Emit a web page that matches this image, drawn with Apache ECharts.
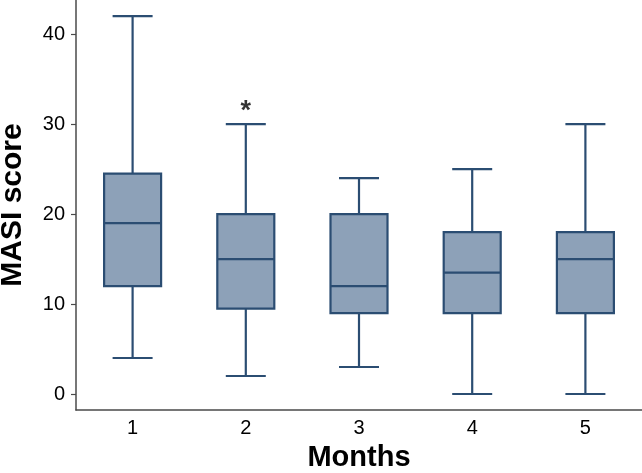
<!DOCTYPE html>
<html><head><meta charset="utf-8">
<script src="https://cdn.jsdelivr.net/npm/echarts@6/dist/echarts.min.js"></script>
<style>html,body{margin:0;padding:0;background:#fff}#c{width:642px;height:473px}</style>
</head><body><div id="c"></div>
<script>
const categories = ['1','2','3','4','5'];
const whiskerLow  = [4, 2, 3, 0, 0];
const q1          = [12, 9.5, 9, 9, 9];
const median      = [19, 15, 12, 13.5, 15];
const q3          = [24.5, 20, 20, 18, 18];
const whiskerHigh = [42, 30, 24, 25, 30];
const markers = [{category: 1, value: 31.4, text: '*'}];
const yTicks = [0, 10, 20, 30, 40];

const data = categories.map((c, i) => [i, whiskerLow[i], q1[i], median[i], q3[i], whiskerHigh[i]]);
const stroke = '#2B4D72', fill = '#8DA1B8';
const chart = echarts.init(document.getElementById('c'));
chart.setOption({
  animation: false,
  grid: {left: 76, right: 0, top: 0, bottom: 63, containLabel: false, outerBoundsMode: 'none'},
  xAxis: {
    type: 'category', data: categories,
    name: 'Months', nameLocation: 'middle', nameGap: 33,
    nameTextStyle: {fontFamily: 'Liberation Sans', fontWeight: 'bold', fontSize: 29, color: '#000'},
    axisLine: {onZero: false, lineStyle: {color: '#4a4a4a', width: 1.5}},
    axisTick: {show: false},
    axisLabel: {fontFamily: 'Liberation Sans', fontSize: 20, color: '#000', margin: 8}
  },
  yAxis: {
    type: 'value', min: -1.78, max: 43.8, interval: 10,
    name: 'MASI score', nameLocation: 'middle', nameGap: 48,
    nameTextStyle: {fontFamily: 'Liberation Sans', fontWeight: 'bold', fontSize: 30, color: '#000'},
    axisLine: {show: true, onZero: false, lineStyle: {color: '#4a4a4a', width: 1.5}},
    axisTick: {show: true, length: 5, lineStyle: {color: '#4a4a4a', width: 1.2},
      customValues: yTicks},
    axisLabel: {fontFamily: 'Liberation Sans', fontSize: 20, color: '#000', margin: 11,
      customValues: yTicks},
    splitLine: {show: false}
  },
  series: [{
    type: 'custom',
    data: data,
    encode: {x: 0, y: [1,2,3,4,5]},
    renderItem: function (params, api) {
      const i = api.value(0);
      const x = api.coord([i, 0])[0];
      const yLo = api.coord([i, api.value(1)])[1];
      const yQ1 = api.coord([i, api.value(2)])[1];
      const yMd = api.coord([i, api.value(3)])[1];
      const yQ3 = api.coord([i, api.value(4)])[1];
      const yHi = api.coord([i, api.value(5)])[1];
      const bw = 57, cw = 40;
      const ls = {stroke: stroke, lineWidth: 2.2};
      return {type: 'group', children: [
        {type: 'line', shape: {x1: x, y1: yHi, x2: x, y2: yQ3}, style: ls},
        {type: 'line', shape: {x1: x, y1: yQ1, x2: x, y2: yLo}, style: ls},
        {type: 'line', shape: {x1: x - cw/2, y1: yHi, x2: x + cw/2, y2: yHi}, style: ls},
        {type: 'line', shape: {x1: x - cw/2, y1: yLo, x2: x + cw/2, y2: yLo}, style: ls},
        {type: 'rect', shape: {x: x - bw/2, y: yQ3, width: bw, height: yQ1 - yQ3},
          style: {fill: fill, stroke: stroke, lineWidth: 2.2}},
        {type: 'line', shape: {x1: x - bw/2, y1: yMd, x2: x + bw/2, y2: yMd}, style: ls}
      ]};
    }
  }, {
    type: 'scatter',
    data: markers.map(m => [m.category, m.value]),
    symbolSize: 0,
    label: {show: true, formatter: p => markers[p.dataIndex].text, position: 'inside',
      fontFamily: 'Liberation Sans', fontSize: 27, fontWeight: 'bold', color: '#000'}
  }]
});
</script></body></html>
